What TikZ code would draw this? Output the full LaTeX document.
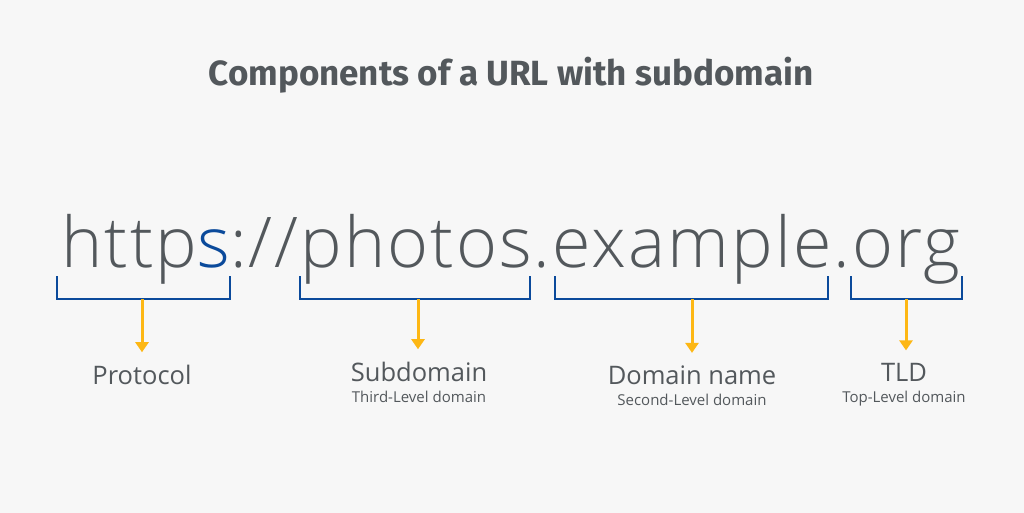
\documentclass[tikz,border=0pt]{standalone}
\usepackage{fontspec}
\setmainfont{Open Sans}
\newfontfamily\titlefont{Fira Sans}
\newfontfamily\urlfont[LetterSpace=2.9]{Open Sans Light}
\usetikzlibrary{arrows.meta,positioning}
\definecolor{bg}{HTML}{F7F7F7}
\definecolor{txtgray}{HTML}{53585C}
\definecolor{urlblue}{HTML}{0B4A9B}
\definecolor{arrowgold}{HTML}{FDB714}
\begin{document}
\begin{tikzpicture}[x=1pt, y=-1pt, thick,
    bracket/.style={draw=urlblue, line width=2.2pt, line join=miter},
    pointer/.style={draw=arrowgold, line width=3pt, -{Triangle[width=13pt,length=10pt]}, shorten >=12pt},
    main label/.style={text=txtgray, font=\fontsize{25.5}{30}\selectfont, inner sep=0pt, anchor=base},
    sub label/.style={text=txtgray, font=\fontsize{15}{18}\selectfont, inner sep=0pt, anchor=base}]
    \fill[bg] (0,0) rectangle (1024,513);
    \useasboundingbox (0,0) rectangle (1024,513);
    % title
    \node[text=txtgray, font=\titlefont\bfseries\fontsize{35}{40}\selectfont, anchor=base] (title) at (511,86) {Components of a URL with subdomain};
    % url
    \node[text=txtgray, font=\urlfont\fontsize{70}{80}\selectfont, inner sep=0pt, anchor=base] (url) at (511,267) {http\textcolor{urlblue}{s}://photos.example.org};
    % brackets
    \coordinate (proto) at (142,299);
    \coordinate (sub) at (418,299);
    \coordinate (dom) at (692,299);
    \coordinate (tld) at (906,299);
    \draw[bracket] (57,276) |- (proto) -| (230,276);
    \draw[bracket] (300,276) |- (sub) -| (530,276);
    \draw[bracket] (555,276) |- (dom) -| (828,276);
    \draw[bracket] (851,276) |- (tld) -| (962,276);
    % labels
    \node[main label] (protocol) at (142,384) {Protocol};
    \node[main label] (subdomain) at (419,381) {Subdomain};
    \node[sub label] (third) at (419,402) {Third-Level domain};
    \node[main label] (domain) at (692,384) {Domain name};
    \node[sub label] (second) at (692,405) {Second-Level domain};
    \node[main label] (tldname) at (904,381) {TLD};
    \node[sub label] (top) at (904,402) {Top-Level domain};
    % arrows
    \draw[pointer] (proto) -- (proto |- protocol.north);
    \draw[pointer] (sub) -- (sub |- subdomain.north);
    \draw[pointer] (dom) -- (dom |- domain.north);
    \draw[pointer] (tld) -- (tld |- tldname.north);
\end{tikzpicture}
\end{document}
